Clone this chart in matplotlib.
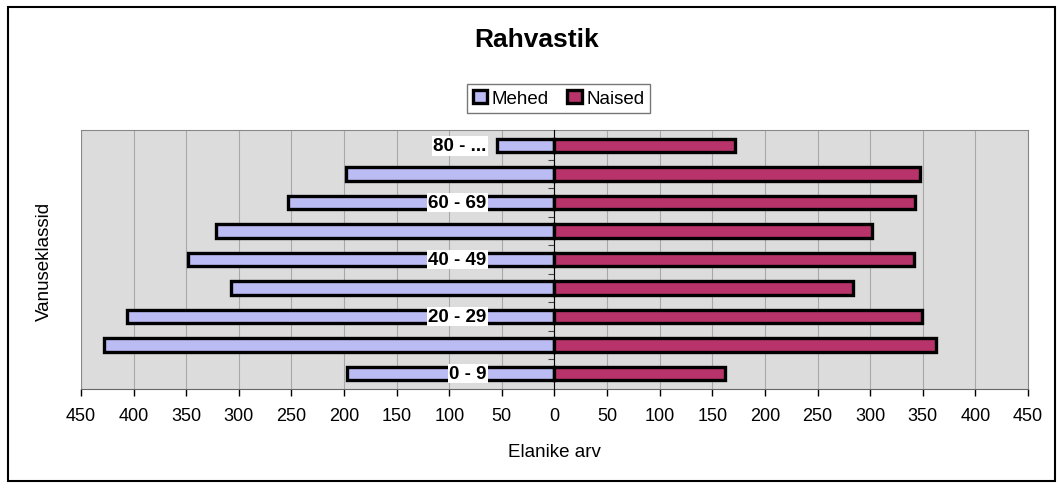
import numpy as np
import matplotlib.pyplot as plt
from matplotlib.patches import Rectangle

# Data
categories = ['0 - 9', '10 - 19', '20 - 29', '30 - 39', '40 - 49',
              '50 - 59', '60 - 69', '70 - 79', '80 - ...']
mehed = [197, 428, 406, 307, 348, 322, 253, 198, 55]
naised = [162, 363, 349, 284, 342, 302, 343, 347, 172]
xticks = np.arange(-450, 451, 50)

plt.rcParams['font.family'] = ['Liberation Sans', 'DejaVu Sans']

fig = plt.figure(figsize=(10.6, 4.89), dpi=100)
ax = fig.add_axes([0.0764, 0.2025, 0.8934, 0.5295])

y = np.arange(len(categories))
h = 0.47
ax.set_facecolor('#dcdcdc')
ax.barh(y, -np.array(mehed), height=h, color='#bcbcf4', edgecolor='black',
        linewidth=2.4, label='Mehed', zorder=3)
ax.barh(y, naised, height=h, color='#b8336a', edgecolor='black',
        linewidth=2.4, label='Naised', zorder=3)

ax.set_xlim(-450, 450)
ax.set_ylim(-0.55, len(categories) - 0.45)
ax.set_xticks(xticks)
ax.set_xticklabels([str(abs(v)) for v in xticks], fontsize=13)
ax.tick_params(axis='x', direction='out', length=5, width=1, pad=8)
ax.xaxis.grid(True, color='#a8a8a8', linewidth=0.8, zorder=0)

# y axis at zero with ticks at category boundaries
ax.spines['left'].set_position(('data', 0))
ax.spines['left'].set_zorder(4)
ax.set_yticks(np.arange(len(categories) - 1) + 0.5)
ax.set_yticklabels([])
ax.tick_params(axis='y', direction='out', length=4, color='#444444')
for s in ['top', 'right']:
    ax.spines[s].set_color('#888888')
ax.spines['bottom'].set_color('#666666')
ax.axvline(-450, color='#888888', linewidth=1.5, zorder=5)

# category labels on every other bar
for i, c in enumerate(categories):
    if i % 2 == 0:
        ax.annotate(c, xy=(0, i), xytext=(-68, 0), textcoords='offset pixels',
                    ha='right', va='center', fontsize=13.5, fontweight='bold',
                    bbox=dict(facecolor='white', edgecolor='none', pad=1),
                    zorder=6)

ax.set_xlabel('Elanike arv', fontsize=13.5, labelpad=14)
fig.text(0.042, 0.466, 'Vanuseklassid', rotation=90, ha='center',
         va='center', fontsize=13.5)
fig.text(0.506, 0.918, 'Rahvastik', ha='center', va='center',
         fontsize=19, fontweight='bold')

leg = fig.legend(loc='center', bbox_to_anchor=(0.527, 0.797), ncol=2,
                 fontsize=13.5, frameon=True, fancybox=False,
                 handlelength=0.75, handleheight=0.75, handletextpad=0.25,
                 columnspacing=1.0, borderpad=0.3)
leg.get_frame().set_edgecolor('#555555')
leg.get_frame().set_linewidth(1)

fig.patches.append(Rectangle((0.008, 0.014), 0.987, 0.97, transform=fig.transFigure,
                             fill=False, edgecolor='black', linewidth=1.5))

fig.savefig('out.png', dpi=100)
